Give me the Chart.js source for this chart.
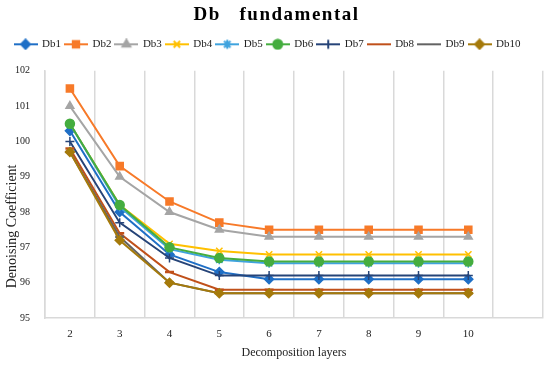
<!DOCTYPE html>
<html>
<head>
<meta charset="utf-8">
<script src="https://cdn.jsdelivr.net/npm/chart.js@4.4.1/dist/chart.umd.min.js"></script>
<style>
  body { margin: 0; background: #fff; }
  #wrap { width: 550px; height: 368px; }
</style>
</head>
<body>
<div id="wrap"><canvas id="dbChart" width="550" height="368"></canvas></div>
<script>
// categories (last slot is empty, as in the original sheet)
const layers = ['2', '3', '4', '5', '6', '7', '8', '9', '10', ''];

// series values
const db1  = [100.3, 98.0, 96.8, 96.3, 96.1, 96.1, 96.1, 96.1, 96.1];
const db2  = [101.5, 99.3, 98.3, 97.7, 97.5, 97.5, 97.5, 97.5, 97.5];
const db3  = [101.0, 99.0, 98.0, 97.5, 97.3, 97.3, 97.3, 97.3, 97.3];
const db4  = [100.5, 98.2, 97.1, 96.9, 96.8, 96.8, 96.8, 96.8, 96.8];
const db5  = [100.5, 98.15, 96.95, 96.65, 96.55, 96.55, 96.55, 96.55, 96.55];
const db6  = [100.5, 98.2, 97.0, 96.7, 96.6, 96.6, 96.6, 96.6, 96.6];
const db7  = [100.0, 97.7, 96.7, 96.2, 96.2, 96.2, 96.2, 96.2, 96.2];
const db8  = [99.8, 97.4, 96.3, 95.8, 95.8, 95.8, 95.8, 95.8, 95.8];
const db9  = [99.7, 97.3, 96.0, 95.7, 95.7, 95.7, 95.7, 95.7, 95.7];
const db10 = [99.7, 97.2, 96.0, 95.7, 95.7, 95.7, 95.7, 95.7, 95.7];

const seriesNames = ['Db1', 'Db2', 'Db3', 'Db4', 'Db5', 'Db6', 'Db7', 'Db8', 'Db9', 'Db10'];
const seriesData = [db1, db2, db3, db4, db5, db6, db7, db8, db9, db10];
const seriesColors = ['#1F6FC6', '#F77A29', '#A5A5A5', '#FFC000', '#3FA3DE',
                      '#45AD3F', '#264478', '#C0501A', '#636363', '#A57A0B'];
const markers = ['rectRot', 'rect', 'triangle', 'crossRot', 'star',
                 'circle', 'cross', 'line', 'line', 'rectRot'];

const serif = "'Liberation Serif', 'Times New Roman', serif";
const yTitle = 'Denoising Coefficient';

// small legend swatch: line through a marker, like the Excel legend
function legendSwatch(color, style) {
    const c = document.createElement('canvas');
    c.width = 24;
    c.height = 12;
    const g = c.getContext('2d');
    g.strokeStyle = color;
    g.fillStyle = color;
    g.lineWidth = 2;
    g.beginPath();
    g.moveTo(0, 6);
    g.lineTo(24, 6);
    g.stroke();
    Chart.helpers.drawPoint(g, { pointStyle: style, radius: 4.5, rotation: 0, borderWidth: 1.5 }, 12, 6);
    return c;
}

const datasets = seriesNames.map((name, i) => ({
    label: name,
    data: seriesData[i],
    borderColor: seriesColors[i],
    backgroundColor: seriesColors[i],
    borderWidth: 2,
    pointStyle: markers[i],
    pointRadius: markers[i] === 'rect' ? 5 : 4.5,
    pointBorderWidth: markers[i] === 'line' ? 2.5 : 1.5,
    tension: 0,
    order: seriesNames.length - i // later series drawn on top
}));

// letter-spaced title, room under the legend, y title placed like Excel does
const layoutTweaks = {
    id: 'layoutTweaks',
    afterInit(chart) {
        const tb = chart.titleBlock;
        const drawTitle = tb.draw.bind(tb);
        tb.draw = function () {
            chart.ctx.save();
            chart.ctx.letterSpacing = '1.5px';
            drawTitle();
            chart.ctx.restore();
        };
        const lg = chart.legend;
        const fitLegend = lg.fit.bind(lg);
        lg.fit = function () {
            fitLegend();
            this.height += 11;
        };
        // legend sits a little left of centre in the original
        const drawLegend = lg.draw.bind(lg);
        lg.draw = function () {
            this.left -= 9;
            this.right -= 9;
            drawLegend();
            this.left += 9;
            this.right += 9;
        };
    },
    afterDraw(chart) {
        const c = chart.ctx;
        const area = chart.chartArea;
        c.save();
        c.translate(12, (area.top + area.bottom) / 2 + 32);
        c.rotate(-Math.PI / 2);
        c.font = '14px ' + serif;
        c.fillStyle = '#222';
        c.textAlign = 'center';
        c.textBaseline = 'middle';
        c.fillText(yTitle, 0, 0);
        c.restore();
    }
};

const ctx = document.getElementById('dbChart').getContext('2d');
new Chart(ctx, {
    type: 'line',
    data: { labels: layers, datasets: datasets },
    plugins: [layoutTweaks],
    options: {
        responsive: false,
        animation: false,
        layout: { padding: { left: 5, right: 2, top: 0, bottom: 4 } },
        plugins: {
            title: {
                display: true,
                text: 'Db   fundamental',
                color: '#000',
                font: { family: serif, size: 19, weight: 'bold' },
                padding: { top: 4, bottom: 8 }
            },
            legend: {
                position: 'top',
                labels: {
                    usePointStyle: true,
                    pointStyleWidth: 22,
                    padding: 4,
                    color: '#222',
                    font: { family: serif, size: 11 },
                    sort: (a, b) => a.datasetIndex - b.datasetIndex,
                    generateLabels(chart) {
                        const items = Chart.defaults.plugins.legend.labels.generateLabels(chart);
                        items.forEach(it => {
                            it.pointStyle = legendSwatch(seriesColors[it.datasetIndex], markers[it.datasetIndex]);
                        });
                        return items;
                    }
                }
            },
            tooltip: { enabled: false }
        },
        scales: {
            x: {
                offset: true,
                afterFit(scale) { scale.height = 46; },
                grid: {
                    offset: true,
                    color: '#D9D9D9',
                    lineWidth: 1.5,
                    drawTicks: false
                },
                border: { color: '#D9D9D9', width: 1.5 },
                ticks: {
                    color: '#222',
                    padding: 10,
                    font: { family: serif, size: 11 },
                    maxRotation: 0
                },
                title: {
                    display: true,
                    text: 'Decomposition layers',
                    color: '#222',
                    font: { family: serif, size: 12 },
                    padding: { top: 0, bottom: 4 }
                }
            },
            y: {
                min: 95,
                max: 102,
                afterFit(scale) { scale.width = 40; },
                grid: { display: false, drawTicks: false },
                border: { color: '#D9D9D9', width: 1.5 },
                ticks: {
                    stepSize: 1,
                    color: '#222',
                    padding: 15,
                    font: { family: serif, size: 10 }
                }
            }
        }
    }
});
</script>
</body>
</html>
